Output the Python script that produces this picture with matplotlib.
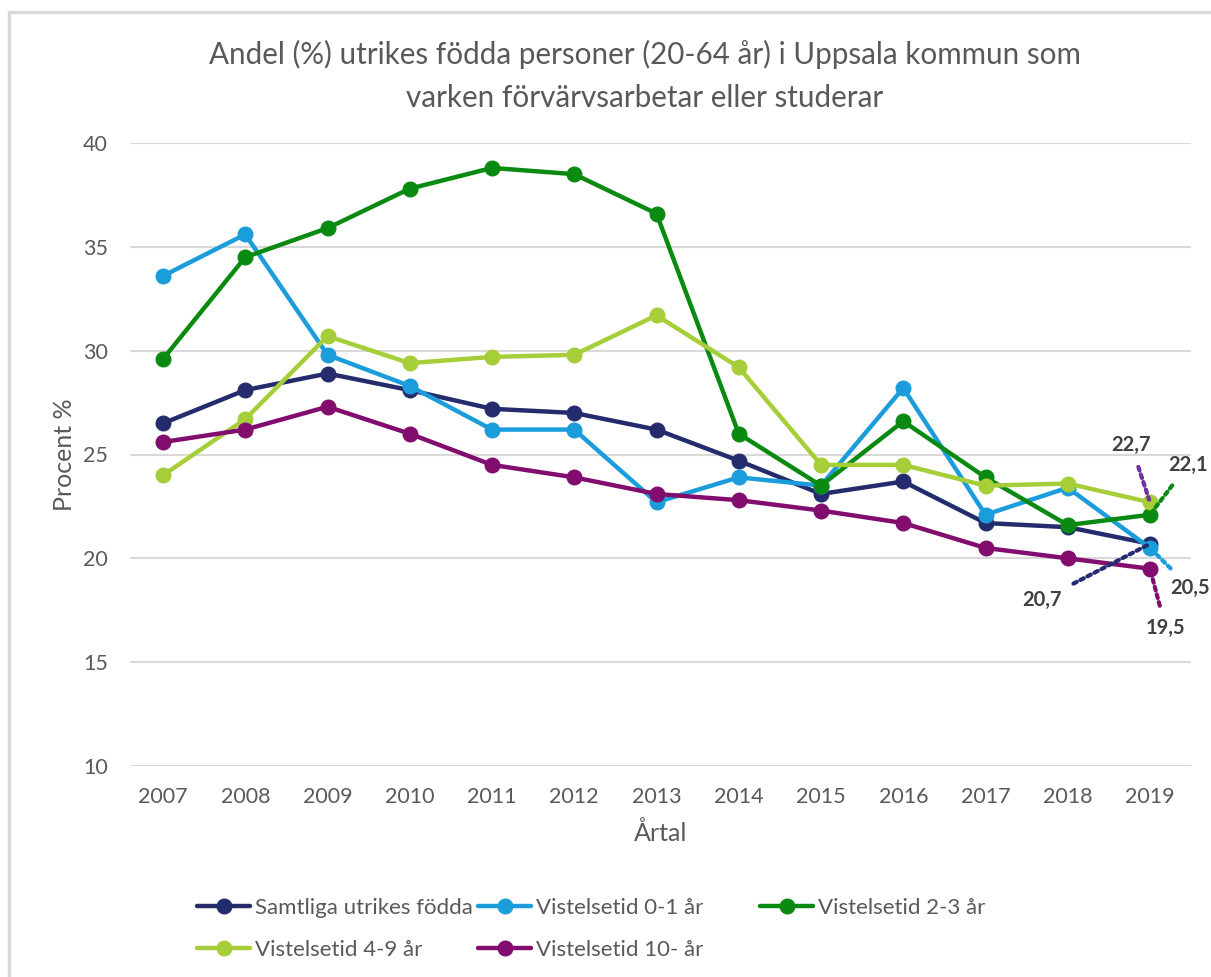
import matplotlib
matplotlib.use("Agg")
import matplotlib.pyplot as plt
from matplotlib.patches import Rectangle

years = list(range(2007, 2020))
samtliga = [26.5, 28.1, 28.9, 28.1, 27.2, 27.0, 26.2, 24.7, 23.1, 23.7, 21.7, 21.5, 20.7]
v01 = [33.6, 35.6, 29.8, 28.3, 26.2, 26.2, 22.7, 23.9, 23.5, 28.2, 22.1, 23.4, 20.5]
v23 = [29.6, 34.5, 35.9, 37.8, 38.8, 38.5, 36.6, 26.0, 23.5, 26.6, 23.9, 21.6, 22.1]
v49 = [24.0, 26.7, 30.7, 29.4, 29.7, 29.8, 31.7, 29.2, 24.5, 24.5, 23.5, 23.6, 22.7]
v10 = [25.6, 26.2, 27.3, 26.0, 24.5, 23.9, 23.1, 22.8, 22.3, 21.7, 20.5, 20.0, 19.5]
names = ["Samtliga utrikes födda", "Vistelsetid 0-1 år", "Vistelsetid 2-3 år",
         "Vistelsetid 4-9 år", "Vistelsetid 10- år"]
colors = ["#252C6E", "#1B9DDB", "#0B8A12", "#A6CE39", "#820D6E"]
series = [samtliga, v01, v23, v49, v10]

plt.rcParams['font.family'] = ['Lato', 'DejaVu Sans']
txt = "#595959"

W, H = 1211, 977
fig = plt.figure(figsize=(W / 100, H / 100), dpi=100)
fig.patches.append(Rectangle((8.5 / W, -0.1), 1.2, 1 - 11.5 / H + 0.1, transform=fig.transFigure,
                             fill=False, edgecolor="#D9D9D9", linewidth=2.5))
ax = fig.add_axes([130 / W, 1 - 766 / H, (1191 - 130) / W, (766 - 143) / H])

handles = []
for vals, c, n in zip(series, colors, names):
    h, = ax.plot(years, vals, color=c, lw=3.2, marker='o', markersize=10.5,
                 solid_capstyle='round', label=n, zorder=3)
    handles.append(h)

ax.set_xlim(2007 - 33 / 82.25, 2019 + 41 / 82.25)
ax.set_ylim(10, 40)
ax.set_yticks([10, 15, 20, 25, 30, 35, 40])
ax.set_xticks(years)
ax.set_xticklabels([str(y) for y in years])
ax.grid(axis='y', color="#D9D9D9", lw=1.5, zorder=0)
for s in ax.spines.values():
    s.set_visible(False)
ax.tick_params(length=0, labelsize=15.5, labelcolor=txt)
ax.tick_params(axis='x', pad=15)
ax.tick_params(axis='y', pad=16)
ax.set_xlabel("Årtal", fontsize=18, color=txt, labelpad=10.5)
ax.set_ylabel("Procent %", fontsize=18, color=txt, labelpad=5)
fig.text(645 / W, 1 - 76 / H,
         "Andel (%) utrikes födda personer (20-64 år) i Uppsala kommun som\nvarken förvärvsarbetar eller studerar",
         ha='center', va='center', fontsize=21.3, color=txt, linespacing=1.68)

# data labels with dotted leader lines
lab_col = "#404040"
def label(val, xt, yt, lc):
    ax.annotate(f"{val:.1f}".replace('.', ','), xy=(2019, val), xytext=(xt, yt),
                ha='center', va='center', fontsize=14.5, fontweight='bold', color=lab_col,
                arrowprops=dict(arrowstyle='-', linestyle=(0, (0.9, 1.0)), color=lc, lw=3,
                                shrinkA=7, shrinkB=2), zorder=5)

label(v49[-1], 2018.77, 25.46, "#7030A0")
label(v23[-1], 2019.46, 24.5, colors[2])
label(v01[-1], 2019.49, 18.57, colors[1])
label(v10[-1], 2019.19, 16.65, colors[4])
label(samtliga[-1], 2017.69, 18.0, colors[0])

# legend entries placed as in the reference (row-wise)
leg_pos = [(197, 908), (478, 908), (760, 908), (197, 950), (478, 950)]
for h, n, (lx, ly) in zip(handles, names, leg_pos):
    fig.legend([h], [n], loc='center left', bbox_to_anchor=(lx / W, 1 - ly / H),
               frameon=False, fontsize=16, labelcolor=txt, handlelength=2.4,
               handletextpad=0.2, borderpad=0, borderaxespad=0)

fig.savefig("out.png", dpi=100)
